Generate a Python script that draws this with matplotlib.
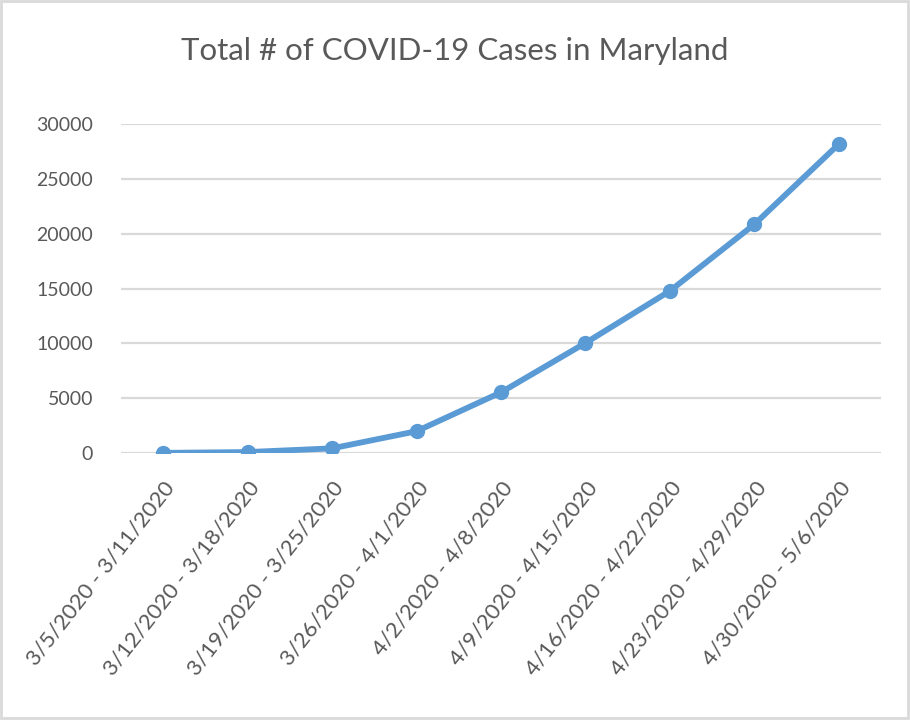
# %%
import matplotlib.pyplot as plt
from matplotlib.patches import Rectangle

# %%
weeks = [
    "3/5/2020 - 3/11/2020",
    "3/12/2020 - 3/18/2020",
    "3/19/2020 - 3/25/2020",
    "3/26/2020 - 4/1/2020",
    "4/2/2020 - 4/8/2020",
    "4/9/2020 - 4/15/2020",
    "4/16/2020 - 4/22/2020",
    "4/23/2020 - 4/29/2020",
    "4/30/2020 - 5/6/2020",
]
total_cases = [12, 85, 423, 1985, 5529, 10032, 14775, 20849, 28163]
y_ticks = [0, 5000, 10000, 15000, 20000, 25000, 30000]

# %%
plt.rcParams["font.family"] = ["Lato", "DejaVu Sans"]
text_grey = "#595959"
line_blue = "#5B9BD5"

fig = plt.figure(figsize=(9.10, 7.21), dpi=100)
ax = fig.add_axes([121 / 910, 1 - 453 / 721, (881 - 121) / 910, (453 - 124) / 721])

x = list(range(len(weeks)))
ax.plot(x, total_cases, color=line_blue, linewidth=4.2, marker="o",
        markersize=10, solid_capstyle="round", zorder=3)

ax.set_xlim(-0.5, len(weeks) - 0.5)
ax.set_ylim(0, 30000)
ax.set_yticks(y_ticks)
ax.set_yticklabels([str(v) for v in y_ticks], color=text_grey, fontsize=14)
ax.set_xticks(x)
ax.set_xticklabels(weeks, rotation=52, ha="right", va="top",
                   rotation_mode="anchor", color=text_grey, fontsize=16)
ax.tick_params(axis="both", length=0)
ax.tick_params(axis="y", pad=20)
ax.tick_params(axis="x", pad=18)
ax.yaxis.grid(True, color="#d9d9d9", linewidth=1.6)
ax.set_axisbelow(True)
for s in ax.spines.values():
    s.set_visible(False)

fig.text(0.5, 1 - 60 / 721, "Total # of COVID-19 Cases in Maryland",
         ha="center", va="baseline", fontsize=22.5, color=text_grey)

fig.patches.append(Rectangle((0.001, 0.004), 0.997, 0.994, transform=fig.transFigure,
                             fill=False, edgecolor="#d9d9d9", linewidth=2))

fig.savefig("out.png", dpi=100)
